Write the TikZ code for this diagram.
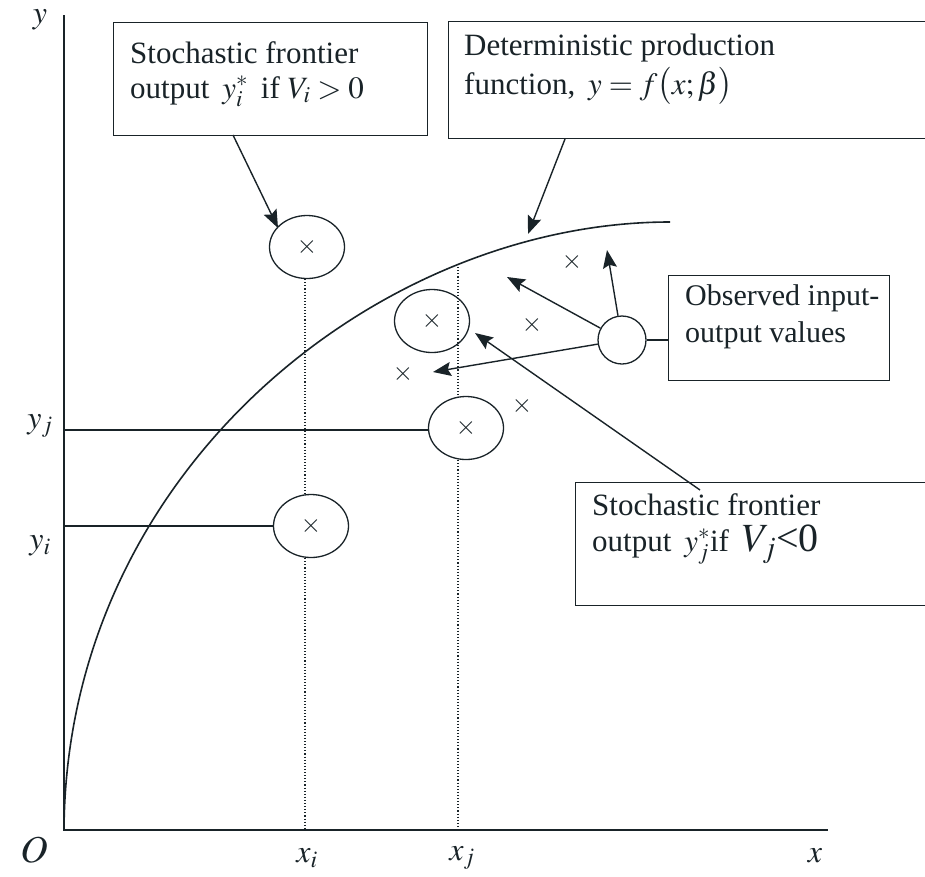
\documentclass[tikz,border=0pt]{standalone}
\usepackage{mathptmx}
\usepackage[no-math]{fontspec}
\setmainfont{Liberation Serif}
\usetikzlibrary{arrows.meta,shapes.geometric}
\definecolor{ink}{RGB}{25,35,40}
\begin{document}
\begin{tikzpicture}[x=1pt,y=-1pt,
  lbox/.style={draw=ink, line width=1.3pt, inner sep=0pt, anchor=north west},
  txt/.style={anchor=base west, inner sep=0pt, text=ink, text height=22pt, text depth=6pt, font=\fontsize{31}{33}\selectfont},
  axl/.style={inner sep=0pt, text=ink, font=\fontsize{32}{32}\selectfont},
  ell/.style={ellipse, draw=ink, line width=1.3pt, minimum width=75pt, minimum height=63pt, inner sep=0pt, text=ink, font=\fontsize{26}{26}\selectfont},
  obsc/.style={circle, draw=ink, line width=1.3pt, minimum size=48pt, inner sep=0pt},
  crs/.style={inner sep=0pt, text=ink, font=\fontsize{26}{26}\selectfont},
  arr/.style={draw=ink, line width=1.4pt, -{Stealth[length=18pt,width=14pt,inset=3pt]}},
  dots/.style={draw=ink, line width=1.1pt, dotted},
  axis/.style={draw=ink, line width=1.6pt},
  plain/.style={draw=ink, line width=1.3pt}]
\clip (0,0) rectangle (925,876);
\fill[white] (0,0) rectangle (925,876);

% axes
\coordinate (O) at (64,830);
\coordinate (ytop) at (64,15);
\coordinate (xend) at (828,830);
\draw[axis] (ytop) -- (O) -- (xend);

% curve
\coordinate (cend) at (670,222);
\draw[axis] (O) .. controls (66,470) and (380,222) .. (cend);

% axis labels
\node[axl] (ly) at (40,20) {$y$};
\node[axl, font=\fontsize{38}{38}\selectfont] (lO) at (34,850) {$O$};
\node[axl] (lxi) at (307,858) {$x_i$};
\node[axl] (lxj) at (462,858) {$x_j$};
\node[axl] (lx) at (815,856) {$x$};
\node[axl] (lyj) at (40,426) {$y_j$};
\node[axl] (lyi) at (40,546) {$y_i$};

% ellipses with crosses
\node[ell] (ci1) at (307,247) {$\times$};
\node[ell] (ci2) at (311,526) {$\times$};
\node[ell] (cj1) at (432,321) {$\times$};
\node[ell] (cj2) at (466,428) {$\times$};

% other crosses
\node[crs] (x1) at (572,262) {$\times$};
\node[crs] (x2) at (532,325) {$\times$};
\node[crs] (x3) at (403,374) {$\times$};
\node[crs] (x4) at (522,406) {$\times$};

% guide lines
\coordinate (xi) at (305,830);
\coordinate (xj) at (458,830);
\coordinate (xjtop) at (458,264);
\coordinate (yjL) at (64,430);
\coordinate (yiL) at (64,526);
\draw[plain] (yjL) -- (cj2.west |- yjL);
\draw[plain] (yiL) -- (ci2.west);
\draw[dots] (ci1.south -| xi) -- (ci2.north -| xi);
\draw[dots] (ci2.south -| xi) -- (xi);
\draw[dots] (xjtop) -- (cj2.north -| xj);
\draw[dots] (cj2.south -| xj) -- (xj);

% boxes
\node[lbox, minimum width=314pt, minimum height=113pt] (b1) at (113,22) {};
\node[txt] (t1a) at (130,63) {Stochastic frontier};
\node[txt] (t1b) at (130,98) {output\, $y_i^{*}$\, if $V_i > 0$};

\node[lbox, minimum width=500pt, minimum height=117pt] (b2) at (448,21) {};
\node[txt] (t2a) at (464,55) {Deterministic production};
\node[txt] (t2b) at (464,94) {function,\, $y = f\bigl(x;\beta\bigr)$};

\node[lbox, minimum width=221pt, minimum height=105pt] (b3) at (668,275) {};
\node[txt, font=\fontsize{30}{32}\selectfont] (t3a) at (685,305) {Observed input-};
\node[txt, font=\fontsize{30}{32}\selectfont] (t3b) at (685,342) {output values};

\node[lbox, minimum width=400pt, minimum height=123pt] (b4) at (575,482) {};
\node[txt] (t4a) at (592,515) {Stochastic frontier};
\node[txt] (t4b) at (592,551) {output\, $y_j^{*}$if\, {\fontsize{40}{40}\selectfont$V_j$<0}};

% observed circle
\node[obsc] (obs) at (622,340) {};
\draw[plain] (obs.east) -- (b3.west |- obs.east);

% arrows
\coordinate (a1s) at (233,135);
\coordinate (a1e) at (278,228);
\draw[arr] (a1s) -- (a1e);
\coordinate (a2s) at (565,139);
\coordinate (a2e) at (528,234);
\draw[arr] (a2s) -- (a2e);
\coordinate (a3e) at (507,277);
\coordinate (a4e) at (607,250);
\coordinate (a5e) at (433,372);
\draw[arr] (obs) -- (a3e);
\draw[arr] (obs) -- (a4e);
\draw[arr] (obs) -- (a5e);
\coordinate (a6s) at (700,490);
\coordinate (a6e) at (475,333);
\draw[arr] (a6s) -- (a6e);
\end{tikzpicture}
\end{document}
